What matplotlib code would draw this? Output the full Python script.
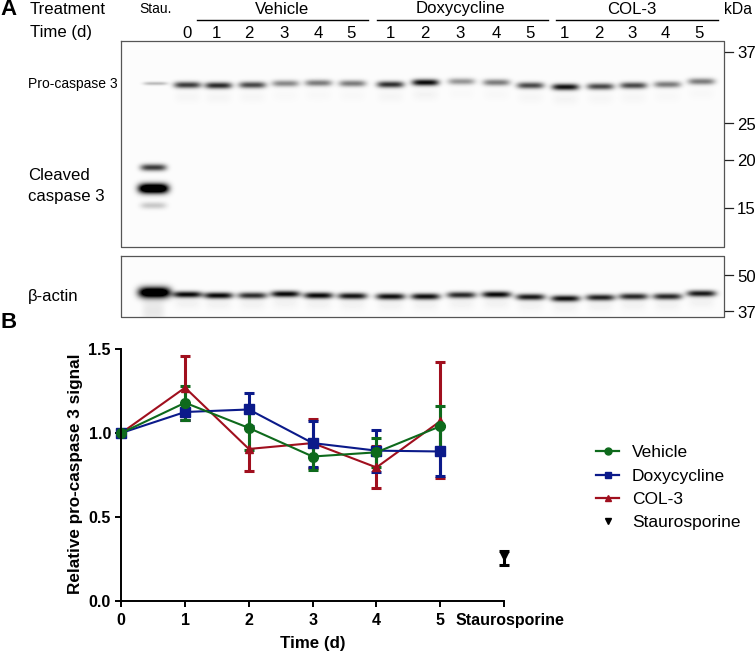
import numpy as np
import matplotlib
matplotlib.use("Agg")
import matplotlib.pyplot as plt
from matplotlib.lines import Line2D
from matplotlib.transforms import ScaledTranslation

plt.rcParams['font.family'] = ['Liberation Sans', 'DejaVu Sans']

# panel B values
time_ticks = [0, 1, 2, 3, 4, 5, 6]
time_labels = ['0', '1', '2', '3', '4', '5', 'Staurosporine']
days = [0, 1, 2, 3, 4, 5]

vehicle = [1.0, 1.18, 1.03, 0.86, 0.885, 1.04]
vehicle_hi = [1.0, 1.28, 1.14, 0.95, 0.97, 1.16]
vehicle_lo = [1.0, 1.08, 0.90, 0.78, 0.80, 0.91]

doxy = [1.0, 1.125, 1.14, 0.94, 0.895, 0.89]
doxy_hi = [1.0, 1.17, 1.24, 1.07, 1.02, 1.04]
doxy_lo = [1.0, 1.08, 1.04, 0.80, 0.77, 0.745]

col3 = [1.0, 1.27, 0.905, 0.94, 0.795, 1.07]
col3_hi = [1.0, 1.46, 1.03, 1.085, 0.92, 1.42]
col3_lo = [1.0, 1.08, 0.775, 0.79, 0.67, 0.73]

stau_x = [6]
stau = [0.27]
stau_hi = [0.30]
stau_lo = [0.215]

# panel A lanes, in image pixels
lane_x = [187, 218, 252, 285, 318, 352, 390, 425, 461, 496, 530, 565, 600, 633, 667, 701]
lane_labels = ['0', '1', '2', '3', '4', '5', '1', '2', '3', '4', '5', '1', '2', '3', '4', '5']
label_x = [187, 216, 249, 284, 318, 351, 390, 425, 460, 496, 530, 564, 599, 632, 665, 699]
pro_y = [84.5, 85, 84.5, 83, 82.5, 83, 84, 82, 81, 82, 85, 86.5, 86, 85, 84, 81]
pro_dark = [0.75, 0.82, 0.7, 0.45, 0.5, 0.5, 0.8, 0.95, 0.4, 0.5, 0.7, 0.92, 0.7, 0.7, 0.5, 0.5]
actin_y = [294, 295, 295, 293.5, 295, 295.5, 296, 296, 294.5, 294, 296.5, 298, 297, 296, 296, 293]
actin_dark = [0.95, 0.95, 0.8, 0.95, 0.95, 0.9, 0.92, 0.92, 0.82, 0.95, 0.88, 0.92, 0.85, 0.82, 0.82, 0.88]

# x, y, half width, half height, darkness
stau_bands = [(155, 83, 12, 1.8, 0.25), (153, 167, 13, 3.5, 0.75), (153, 188, 15, 5, 1.5), (153, 205, 13, 3.5, 0.2)]
stau_actin = [(154, 292, 16, 5.5, 1.4), (153, 310, 11, 14, 0.08)]

kda_top = [('37', 52), ('25', 123), ('20', 160), ('15', 208)]
kda_bottom = [('50', 275), ('37', 311)]
groups = [('Vehicle', 197, 368, 282), ('Doxycycline', 377, 548, 460), ('COL-3', 556, 718, 632)]


def blot(x0, x1, y0, y1, bands):
    xx, yy = np.meshgrid(np.arange(x0, x1), np.arange(y0, y1))
    dark = np.full(xx.shape, 0.012)
    for x, y, w, h, d in bands:
        dark += d * np.exp(-(np.abs(xx - x) / w) ** 4) * np.exp(-((yy - y) / h) ** 2)
    return 1 - np.clip(dark, 0, 1)


fig = plt.figure(figsize=(7.55, 6.52), dpi=100)

# Panel A is laid out directly in image pixels
top = fig.add_axes([0, 0, 1, 1])
top.set_xlim(0, 755)
top.set_ylim(652, 0)
top.axis('off')

pro_bands = list(stau_bands)
for x, y, d in zip(lane_x, pro_y, pro_dark):
    pro_bands.append((x, y, 13.5, 3.3, d))
    pro_bands.append((x, y + 12, 13, 6, d * 0.035))
actin_bands = list(stau_actin)
for x, y, d in zip(lane_x, actin_y, actin_dark):
    actin_bands.append((x, y, 14.5, 3.2, d))
    actin_bands.append((x, y + 8, 13, 7, 0.04))

top.imshow(blot(121, 724, 41, 247, pro_bands), cmap='gray', vmin=0, vmax=1,
           extent=(121, 724, 247, 41), aspect='auto', interpolation='bilinear')
top.imshow(blot(121, 724, 256, 317, actin_bands), cmap='gray', vmin=0, vmax=1,
           extent=(121, 724, 317, 256), aspect='auto', interpolation='bilinear')
top.set_xlim(0, 755)
top.set_ylim(652, 0)
for y0, y1 in [(41, 247), (256, 317)]:
    top.plot([121, 724, 724, 121, 121], [y0, y0, y1, y1, y0], color='#555555', lw=0.9)

top.text(0, 9.5, 'A', fontsize=16, fontweight='bold', va='center')
top.text(0, 322, 'B', fontsize=16, fontweight='bold', va='center')
top.text(30, 9, 'Treatment', fontsize=12.1, va='center')
top.text(30, 33, 'Time (d)', fontsize=12.1, va='center')
top.text(156, 9, 'Stau.', fontsize=10, va='center', ha='center')
top.text(738, 9, 'kDa', fontsize=11.3, va='center', ha='center')
for name, x0, x1, xc in groups:
    top.text(xc, 9, name, fontsize=12.1, va='center', ha='center')
    top.plot([x0, x1], [20, 20], color='black', lw=1)
for x, lab in zip(label_x, lane_labels):
    top.text(x, 33, lab, fontsize=12.1, va='center', ha='center')
for lab, y in kda_top + kda_bottom:
    top.plot([725, 733], [y, y], color='#222222', lw=0.9)
    top.text(737, y + 2, lab, fontsize=12.1, va='center')
top.text(28, 84, 'Pro-caspase 3', fontsize=10, va='center')
top.text(28, 176, 'Cleaved', fontsize=12.1, va='center')
top.text(28, 197, 'caspase 3', fontsize=12.1, va='center')
top.text(28, 297, '\u03b2-actin', fontsize=12.1, va='center')

# Panel B
ax = fig.add_axes([121.3 / 755, 1 - 601 / 652, (504 - 121.3) / 755, 252 / 652])
ax.patch.set_alpha(0)


def series(y, hi, lo, color, marker, label, ms):
    y = np.array(y)
    err = [y - np.array(lo), np.array(hi) - y]
    ax.errorbar(days, y, yerr=err, color=color, marker=marker, ms=ms, lw=1.5,
                elinewidth=2.2, capsize=3.4, capthick=2.2, clip_on=False, label=label)


series(col3, col3_hi, col3_lo, '#a00f1e', '^', 'COL-3', 6)
series(doxy, doxy_hi, doxy_lo, '#0b1a8a', 's', 'Doxycycline', 6.5)
series(vehicle, vehicle_hi, vehicle_lo, '#0e6a1c', 'o', 'Vehicle', 7)
s = np.array(stau)
ax.errorbar(stau_x, s, yerr=[s - np.array(stau_lo), np.array(stau_hi) - s], color='black',
            marker='v', ms=5.5, ls='none', elinewidth=2.2, capsize=3.4, capthick=2.2,
            clip_on=False)

ax.set_xlim(0, 6)
ax.set_ylim(0, 1.5)
ax.set_xticks(time_ticks)
ax.set_xticklabels(time_labels, fontsize=11.5, fontweight='bold')
ax.set_yticks([0, 0.5, 1.0, 1.5])
ax.set_yticklabels(['0.0', '0.5', '1.0', '1.5'], fontsize=11.5, fontweight='bold')
ax.tick_params(length=4.5, width=1.4, pad=3)
ax.tick_params(axis='x', pad=4)
for side in ['top', 'right']:
    ax.spines[side].set_visible(False)
for side in ['left', 'bottom']:
    ax.spines[side].set_linewidth(1.4)
ax.get_xticklabels()[-1].set_transform(
    ax.get_xticklabels()[-1].get_transform() + ScaledTranslation(6 / 100, 0, fig.dpi_scale_trans))

ax.set_xlabel('Time (d)', fontsize=12.2, fontweight='bold')
ax.xaxis.set_label_coords((312.5 - 121.3) / (504 - 121.3), -(636 - 601) / 252)
ax.set_ylabel('Relative pro-caspase 3 signal', fontsize=12.3, fontweight='bold')
ax.yaxis.set_label_coords(-(121.3 - 83) / (504 - 121.3), (601 - 474) / 252)

# legend keys show line and marker only, no error bars
legend_handles = [
    Line2D([], [], color='#0e6a1c', marker='o', ms=5, lw=1.6),
    Line2D([], [], color='#0b1a8a', marker='s', ms=5, lw=1.6),
    Line2D([], [], color='#a00f1e', marker='^', ms=5, lw=1.6),
    Line2D([], [], color='black', marker='v', ms=5, ls='none'),
]
ax.legend(legend_handles, ['Vehicle', 'Doxycycline', 'COL-3', 'Staurosporine'], loc='upper left',
          bbox_to_anchor=(1.241, 0.618), frameon=False, fontsize=12.5,
          handlelength=1.3, handletextpad=0.75, labelspacing=0.47, borderaxespad=0,
          borderpad=0)

fig.savefig('out.png', dpi=100)
